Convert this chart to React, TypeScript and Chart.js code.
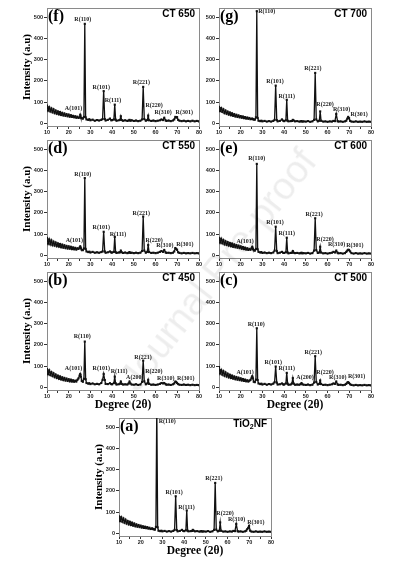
import React, { useEffect, useRef } from "react";
import { Chart, registerables } from "chart.js";

Chart.register(...registerables);

// ---------- DATA ----------
const twoTheta = [
  10, 10.5, 11, 11.5, 12, 12.5, 13, 13.5, 14, 14.5, 15, 15.5, 16, 16.5, 17, 17.5, 18, 18.5, 19, 19.5, 20, 20.5, 21, 21.5, 22, 22.5, 23, 23.5, 24, 24.5,
  25.0, 25.3, 25.6, 26.0, 26.5, 27.0, 27.4, 27.8, 28.2, 29.0, 29.5,
  30, 31, 32, 33, 34, 35, 35.6, 36.1, 36.6, 37,
  38, 39, 39.6, 40, 40.8, 41.2, 41.6, 42,
  43, 43.6, 44.0, 44.4, 45, 46, 47, 47.6, 48.0, 48.4, 49,
  50, 51, 52, 53, 53.8, 54.3, 54.8, 55.5, 56.2, 56.6, 57.0, 58,
  59, 60, 61, 62, 62.7, 63.4, 64.0, 64.6, 65, 66, 67, 68,
  68.6, 69.1, 69.5, 69.9, 70.4, 71, 72, 73, 74, 75, 76, 77, 78, 79, 80,
];

const ct650 = [
  84, 60, 76, 56, 70, 52, 66, 48, 60, 45, 56, 42, 53, 39, 49, 37, 46, 35, 43, 33, 41, 31, 38, 30, 35, 28, 33, 26, 31, 25,
  28, 40, 27, 24, 22, 30, 470, 28, 18, 16, 19,
  14, 17, 12, 15, 13, 16, 20, 152, 20, 13,
  16, 22, 14, 15, 18, 88, 17, 12,
  14, 16, 33, 15, 12, 14, 11, 13, 16, 12, 14,
  11, 13, 10, 12, 18, 172, 20, 12, 15, 36, 14, 11,
  13, 10, 12, 14, 18, 15, 26, 14, 11, 13, 10, 13,
  18, 30, 27, 29, 16, 12, 10, 12, 9, 11, 9, 12, 9, 11, 9,
];

const ct700 = [
  78, 58, 72, 54, 66, 48, 60, 45, 55, 41, 51, 38, 47, 35, 43, 32, 40, 30, 37, 28, 34, 26, 32, 24, 29, 22, 27, 21, 25, 19,
  21, 22, 19, 18, 17, 28, 530, 25, 12, 10, 12,
  9, 11, 8, 10, 8, 11, 16, 178, 15, 9,
  11, 18, 12, 10, 14, 111, 12, 9,
  10, 11, 16, 13, 9, 10, 8, 9, 10, 8, 9,
  8, 10, 7, 9, 16, 238, 18, 9, 12, 56, 12, 8,
  9, 7, 9, 8, 11, 10, 44, 10, 8, 9, 7, 9,
  12, 22, 30, 24, 11, 8, 7, 9, 7, 8, 7, 9, 7, 8, 7,
];

const ct550 = [
  82, 55, 75, 52, 70, 48, 64, 46, 60, 43, 56, 41, 53, 38, 50, 36, 47, 34, 44, 32, 42, 31, 40, 29, 37, 28, 35, 27, 33, 30,
  36, 42, 33, 26, 24, 32, 365, 30, 18, 15, 17,
  13, 16, 12, 14, 12, 15, 18, 111, 18, 12,
  14, 18, 13, 13, 16, 87, 15, 11,
  13, 14, 22, 14, 11, 13, 10, 12, 15, 11, 12,
  10, 12, 10, 12, 20, 183, 22, 12, 16, 48, 15, 11,
  12, 10, 12, 16, 20, 16, 25, 14, 11, 12, 10, 12,
  18, 34, 30, 26, 14, 11, 9, 11, 9, 10, 9, 11, 9, 10, 9,
];

const ct600 = [
  82, 60, 78, 57, 72, 52, 66, 49, 62, 46, 58, 43, 55, 40, 51, 38, 48, 36, 45, 34, 42, 31, 39, 29, 36, 27, 33, 25, 30, 26,
  33, 40, 30, 24, 22, 30, 432, 28, 16, 13, 15,
  11, 13, 10, 12, 10, 13, 22, 135, 20, 10,
  12, 16, 11, 11, 14, 83, 13, 9,
  11, 12, 20, 12, 10, 11, 9, 10, 12, 9, 10,
  9, 11, 8, 10, 22, 175, 24, 11, 13, 40, 13, 9,
  10, 8, 10, 12, 16, 13, 22, 12, 9, 10, 8, 10,
  16, 22, 26, 25, 18, 10, 8, 10, 8, 9, 8, 10, 8, 9, 8,
];

const ct450 = [
  86, 62, 80, 58, 72, 53, 66, 48, 60, 44, 55, 40, 51, 37, 47, 34, 44, 32, 41, 30, 38, 28, 36, 27, 33, 26, 31, 27, 35, 42,
  55, 63, 50, 30, 26, 40, 216, 38, 20, 17, 19,
  15, 18, 14, 16, 14, 20, 35, 63, 34, 16,
  15, 19, 15, 14, 20, 50, 19, 13,
  14, 17, 27, 16, 13, 14, 13, 18, 27, 18, 13,
  12, 14, 11, 13, 25, 126, 28, 14, 18, 35, 16, 12,
  13, 11, 13, 16, 20, 18, 20, 15, 12, 13, 11, 14,
  18, 27, 25, 20, 15, 12, 11, 13, 11, 12, 10, 12, 10, 11, 10,
];

const ct500 = [
  95, 65, 82, 60, 76, 55, 70, 51, 64, 47, 59, 44, 55, 41, 51, 38, 48, 36, 45, 34, 42, 32, 39, 30, 36, 28, 33, 27, 31, 35,
  45, 52, 42, 26, 24, 36, 279, 34, 18, 15, 17,
  13, 16, 12, 15, 13, 17, 24, 98, 22, 13,
  14, 18, 13, 13, 18, 68, 17, 12,
  13, 18, 43, 17, 12, 13, 12, 15, 20, 14, 12,
  11, 13, 10, 12, 22, 147, 25, 13, 16, 32, 15, 11,
  12, 10, 12, 14, 18, 16, 27, 14, 11, 12, 10, 12,
  16, 22, 24, 20, 14, 11, 9, 11, 9, 10, 9, 11, 9, 10, 9,
];

const tio2nf = [
  80, 58, 76, 55, 70, 50, 64, 46, 58, 42, 54, 39, 50, 36, 46, 33, 42, 31, 39, 29, 36, 27, 33, 25, 31, 24, 29, 22, 26, 20,
  22, 23, 20, 19, 17, 30, 600, 28, 12, 10, 12,
  9, 11, 8, 10, 8, 11, 16, 175, 15, 9,
  11, 16, 11, 10, 14, 108, 12, 9,
  10, 11, 16, 12, 9, 10, 8, 9, 10, 8, 9,
  8, 10, 7, 9, 16, 238, 17, 9, 12, 51, 12, 8,
  9, 7, 9, 8, 11, 10, 44, 10, 8, 9, 7, 9,
  12, 20, 26, 35, 12, 8, 7, 9, 7, 8, 7, 9, 7, 8, 7,
];

const xTicks = [10, 15, 20, 25, 30, 35, 40, 45, 50, 55, 60, 65, 70, 75, 80];
const yTicks = [0, 100, 200, 300, 400, 500];

// peak labels (text, 2θ, intensity)
const labels8 = ["A(101)", "R(110)", "R(101)", "R(111)", "R(221)", "R(220)", "R(310)", "R(301)"];
const labels9 = ["A(101)", "R(110)", "R(101)", "R(111)", "A(200)", "R(221)", "R(220)", "R(310)", "R(301)"];
const labels7 = ["R(110)", "R(101)", "R(111)", "R(221)", "R(220)", "R(310)", "R(301)"];

const fLabelX = [22.2, 26.5, 35.0, 40.4, 53.5, 59.3, 63.5, 73.2];
const fLabelY = [68, 489, 167, 108, 195, 82, 51, 51];
const gLabelX = [32.0, 35.8, 41.2, 53.2, 58.8, 66.5, 74.5];
const gLabelY = [531, 198, 127, 257, 87, 67, 40];
const dLabelX = [22.6, 26.5, 35.0, 42.7, 53.4, 59.3, 64.3, 73.5];
const dLabelY = [71, 384, 130, 100, 198, 71, 48, 51];
const eLabelX = [22.0, 27.4, 35.8, 41.2, 53.8, 58.8, 64.2, 72.6];
const eLabelY = [63, 457, 156, 103, 194, 76, 51, 44];
const bLabelX = [22.2, 26.2, 35.0, 43.2, 50.4, 54.2, 59.2, 64.7, 73.9];
const bLabelY = [87, 240, 87, 77, 46, 142, 77, 42, 42];
const cLabelX = [22.0, 27.1, 35.0, 41.2, 49.6, 53.4, 58.8, 64.7, 73.4];
const cLabelY = [71, 295, 115, 90, 44, 166, 71, 47, 49];
const aLabelX = [32.2, 35.4, 41.1, 53.7, 58.8, 64.2, 73.0];
const aLabelY = [531, 193, 124, 257, 95, 67, 50];

// ---------- LAYOUT ----------
const SERIF = '"Liberation Serif", "Times New Roman", serif';
const SANS = '"Liberation Sans", Arial, sans-serif';
const PLOT_W = 152;
const PLOT_H = 118;
const M_LEFT = 47;
const M_TOP = 8;
const M_RIGHT = 8;
const M_BOTTOM = 30;
const Y_AXIS_W = 24;
const X_AXIS_H = 16;
const CW = M_LEFT + PLOT_W + M_RIGHT;
const CH = M_TOP + PLOT_H + M_BOTTOM;

type PanelDef = {
  key: string;
  values: number[];
  letter: string;
  tag: [string, string, string];
  labels: string[];
  lx: number[];
  ly: number[];
  left: number;
  top: number;
  yTitle: boolean;
  xTitle: boolean;
};

const panels: PanelDef[] = [
  { key: "f", values: ct650, letter: "(f)", tag: ["CT 650", "", ""], labels: labels8, lx: fLabelX, ly: fLabelY, left: 47, top: 8, yTitle: true, xTitle: false },
  { key: "g", values: ct700, letter: "(g)", tag: ["CT 700", "", ""], labels: labels7, lx: gLabelX, ly: gLabelY, left: 219, top: 8, yTitle: false, xTitle: false },
  { key: "d", values: ct550, letter: "(d)", tag: ["CT 550", "", ""], labels: labels8, lx: dLabelX, ly: dLabelY, left: 47, top: 140, yTitle: true, xTitle: false },
  { key: "e", values: ct600, letter: "(e)", tag: ["CT 600", "", ""], labels: labels8, lx: eLabelX, ly: eLabelY, left: 219, top: 140, yTitle: false, xTitle: false },
  { key: "b", values: ct450, letter: "(b)", tag: ["CT 450", "", ""], labels: labels9, lx: bLabelX, ly: bLabelY, left: 47, top: 272, yTitle: true, xTitle: true },
  { key: "c", values: ct500, letter: "(c)", tag: ["CT 500", "", ""], labels: labels9, lx: cLabelX, ly: cLabelY, left: 219, top: 272, yTitle: false, xTitle: true },
  { key: "a", values: tio2nf, letter: "(a)", tag: ["TiO", "2", "NF"], labels: labels7, lx: aLabelX, ly: aLabelY, left: 119, top: 418, yTitle: true, xTitle: true },
];

function makeTextPlugin(p: PanelDef) {
  return {
    id: "panelText_" + p.key,
    beforeDatasetsDraw(chart: any) {
      const { ctx, chartArea: a } = chart;
      ctx.save();
      ctx.strokeStyle = "#8a8a8a";
      ctx.lineWidth = 1;
      ctx.strokeRect(a.left + 0.5, a.top + 0.5, a.right - a.left, a.bottom - a.top);
      ctx.restore();
    },
    afterDraw(chart: any) {
      const { ctx, chartArea: a } = chart;
      const X = chart.scales.x;
      const Y = chart.scales.y;
      ctx.save();
      ctx.fillStyle = "#1a1a1a";
      // peak labels
      ctx.font = `bold 6px ${SERIF}`;
      ctx.textAlign = "center";
      ctx.textBaseline = "middle";
      p.labels.forEach((t, i) => {
        ctx.fillText(t, X.getPixelForValue(p.lx[i]), Y.getPixelForValue(p.ly[i]));
      });
      // panel letter
      ctx.font = `bold 16px ${SERIF}`;
      ctx.textAlign = "left";
      ctx.fillStyle = "#000";
      ctx.fillText(p.letter, a.left + 1, a.top + 8.5);
      // sample tag (with optional subscript)
      const big = `bold 10px ${SANS}`;
      const small = `bold 7px ${SANS}`;
      ctx.font = big;
      const w0 = ctx.measureText(p.tag[0]).width;
      const w2 = ctx.measureText(p.tag[2]).width;
      ctx.font = small;
      const w1 = p.tag[1] ? ctx.measureText(p.tag[1]).width : 0;
      let x = a.right - 4 - (w0 + w1 + w2);
      const ty = a.top + 6;
      ctx.textAlign = "left";
      ctx.font = big;
      ctx.fillText(p.tag[0], x, ty);
      x += w0;
      if (p.tag[1]) {
        ctx.font = small;
        ctx.fillText(p.tag[1], x, ty + 3);
        x += w1;
      }
      if (p.tag[2]) {
        ctx.font = big;
        ctx.fillText(p.tag[2], x, ty);
      }
      // axis titles
      if (p.yTitle) {
        ctx.save();
        ctx.translate(a.left - 20, (a.top + a.bottom) / 2);
        ctx.rotate(-Math.PI / 2);
        ctx.font = `bold 11px ${SERIF}`;
        ctx.textAlign = "center";
        ctx.fillText("Intensity (a.u)", 0, 0);
        ctx.restore();
      }
      if (p.xTitle) {
        ctx.font = `bold 11.5px ${SERIF}`;
        ctx.textAlign = "center";
        ctx.fillText("Degree (2θ)", (a.left + a.right) / 2, a.bottom + 15.5);
      }
      ctx.restore();
    },
  };
}

function Panel({ p }: { p: PanelDef }) {
  const ref = useRef<HTMLCanvasElement>(null);
  useEffect(() => {
    const tickFont = { family: SANS, size: 5.5, weight: "bold" as const };
    const chart = new Chart(ref.current as HTMLCanvasElement, {
      type: "line",
      data: {
        datasets: [
          {
            data: twoTheta.map((t, i) => ({ x: t, y: p.values[i] })),
            borderColor: "#111",
            borderWidth: 1.3,
            pointStyle: "rect",
            pointRadius: 1.5,
            pointBorderWidth: 0,
            pointBackgroundColor: "#111",
            tension: 0,
          },
        ],
      },
      options: {
        responsive: false,
        animation: false,
        events: [],
        layout: { padding: { left: M_LEFT - Y_AXIS_W, top: M_TOP, right: M_RIGHT, bottom: M_BOTTOM - X_AXIS_H } },
        plugins: { legend: { display: false }, tooltip: { enabled: false } },
        scales: {
          x: {
            type: "linear",
            min: 10,
            max: 80,
            afterBuildTicks: (s: any) => {
              s.ticks = xTicks.map((v) => ({ value: v }));
            },
            afterFit: (s: any) => {
              s.height = X_AXIS_H;
              s.paddingLeft = 0;
              s.paddingRight = 0;
            },
            ticks: {
              autoSkip: false,
              maxRotation: 0,
              padding: 0,
              color: "#222",
              font: tickFont,
              callback: (v: any) => (Number(v) % 10 === 0 ? String(v) : ""),
            },
            grid: { drawOnChartArea: false, tickLength: 3, color: "#333" },
            border: { color: "#222", width: 1 },
          },
          y: {
            type: "linear",
            min: -13,
            max: 545,
            afterBuildTicks: (s: any) => {
              s.ticks = yTicks.map((v) => ({ value: v }));
            },
            afterFit: (s: any) => {
              s.width = Y_AXIS_W;
            },
            ticks: { padding: 1, color: "#222", font: tickFont },
            grid: { drawOnChartArea: false, tickLength: 3, color: "#333" },
            border: { color: "#222", width: 1 },
          },
        },
      },
      plugins: [makeTextPlugin(p)],
    } as any);
    return () => chart.destroy();
  }, [p]);
  return (
    <canvas
      ref={ref}
      width={CW}
      height={CH}
      style={{ position: "absolute", left: p.left - M_LEFT, top: p.top - M_TOP, width: CW, height: CH }}
    />
  );
}

export default function App() {
  return (
    <div style={{ position: "absolute", left: 0, top: 0, width: 393, height: 561, background: "#fff", overflow: "hidden" }}>
      {panels.map((p) => (
        <Panel key={p.key} p={p} />
      ))}
      <div
        style={{
          position: "absolute",
          left: 218,
          top: 270,
          transform: "translate(-50%, -50%) rotate(-52deg)",
          fontFamily: SANS,
          fontSize: 38,
          color: "rgba(0,0,0,0.07)",
          whiteSpace: "nowrap",
          pointerEvents: "none",
        }}
      >
        Journal Pre-proof
      </div>
    </div>
  );
}
